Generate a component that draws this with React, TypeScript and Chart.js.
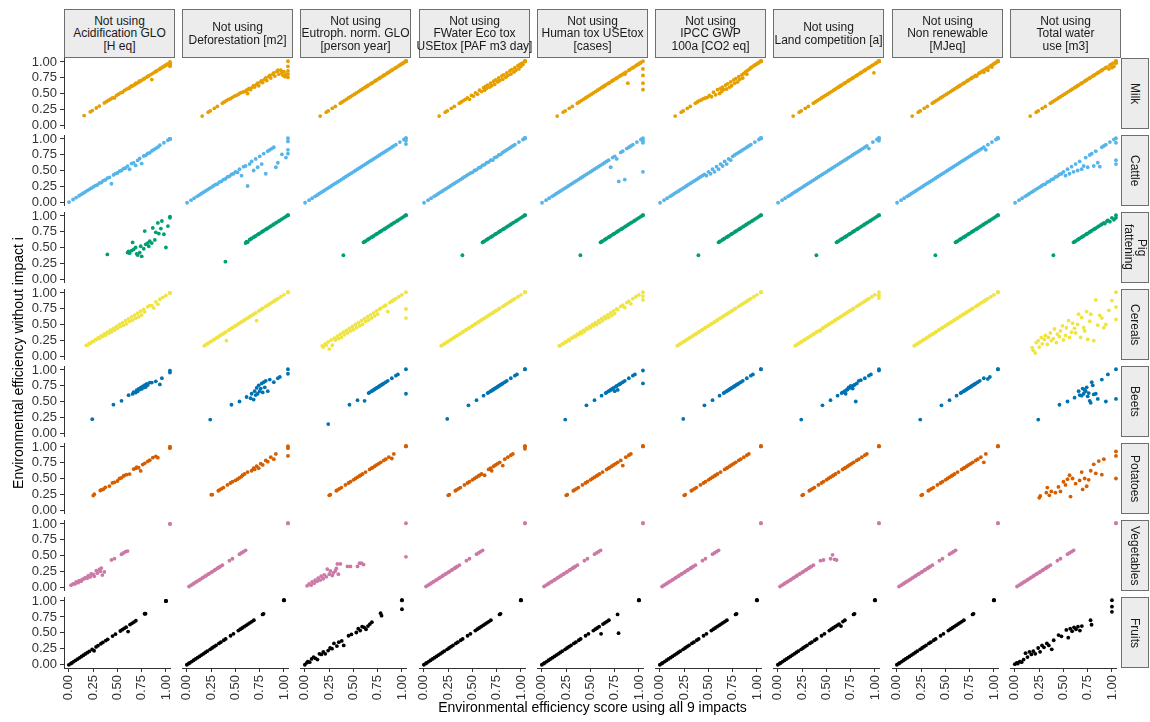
import { useEffect, useRef } from 'react';
import { Chart, registerables } from 'chart.js';
Chart.register(...registerables);

// ---------- labels ----------
const impactLabels = [
  'Not using\nAcidification GLO\n[H eq]',
  'Not using\nDeforestation [m2]',
  'Not using\nEutroph. norm. GLO\n[person year]',
  'Not using\nFWater Eco tox\nUSEtox [PAF m3 day]',
  'Not using\nHuman tox USEtox\n[cases]',
  'Not using\nIPCC GWP\n100a [CO2 eq]',
  'Not using\nLand competition [a]',
  'Not using\nNon renewable\n[MJeq]',
  'Not using\nTotal water\nuse [m3]',
];
const productLabels = ['Milk', 'Cattle', 'Pig\nfattening', 'Cereals', 'Beets', 'Potatoes', 'Vegetables', 'Fruits'];
const productColors = ['#E69F00', '#56B4E9', '#009E73', '#F0E442', '#0072B2', '#D55E00', '#CC79A7', '#000000'];
const tickValues = [0, 0.25, 0.5, 0.75, 1];
const tickLabels = ['0.00', '0.25', '0.50', '0.75', '1.00'];
const xTitle = 'Environmental efficiency score using all 9 impacts';
const yTitle = 'Environmental efficiency without impact i';

// ---------- Milk ----------
const milkX = [0.15,0.21,0.23,0.27,0.30,0.35,0.37,0.39,0.41,0.43, 0.45,0.47,0.49,0.51,0.53,0.55,0.57,0.59,0.60,0.61, 0.62,0.63,0.65,0.66,0.67,0.69,0.70,0.71,0.73,0.74, 0.75,0.77,0.78,0.79,0.81,0.82,0.83,0.85,0.86,0.87, 0.89,0.90,0.91,0.93,0.94,0.95,0.96,0.97,0.98,1.00, 1.00,1.00,1.00,1.00];
const milkAcid = [0.15,0.21,0.23,0.27,0.30,0.35,0.37,0.39,0.41,0.43, 0.43,0.47,0.49,0.51,0.52,0.55,0.57,0.58,0.59,0.61, 0.62,0.62,0.64,0.66,0.66,0.68,0.70,0.70,0.72,0.73, 0.74,0.76,0.77,0.78,0.80,0.72,0.82,0.84,0.85,0.86, 0.88,0.89,0.90,0.92,0.93,0.94,0.95,0.96,0.97,1.00, 0.98,0.96,0.95,0.93];
const milkDefor = [0.15,0.21,0.23,0.27,0.30,0.35,0.37,0.39,0.41,0.42, 0.44,0.46,0.47,0.49,0.51,0.52,0.53,0.55,0.50,0.57, 0.58,0.56,0.60,0.62,0.60,0.64,0.66,0.62,0.68,0.70, 0.67,0.72,0.74,0.70,0.76,0.78,0.74,0.80,0.82,0.77, 0.84,0.86,0.80,0.86,0.82,0.78,0.84,0.76,0.80,1.00, 0.92,0.85,0.80,0.75];
const milkEutro = [0.15,0.21,0.23,0.27,0.30,0.35,0.37,0.39,0.41,0.43, 0.45,0.47,0.49,0.51,0.53,0.55,0.57,0.59,0.60,0.61, 0.62,0.63,0.65,0.66,0.67,0.69,0.70,0.71,0.73,0.74, 0.75,0.77,0.78,0.79,0.81,0.82,0.83,0.85,0.86,0.87, 0.89,0.90,0.91,0.93,0.94,0.95,0.96,0.97,0.98,1.00, 1.00,1.00,1.00,1.00];
const milkFwater = [0.15,0.21,0.23,0.27,0.30,0.35,0.37,0.39,0.41,0.43, 0.41,0.47,0.46,0.51,0.49,0.55,0.53,0.59,0.55,0.61, 0.58,0.63,0.60,0.66,0.62,0.69,0.64,0.71,0.68,0.74, 0.70,0.77,0.72,0.79,0.75,0.82,0.78,0.85,0.80,0.87, 0.83,0.90,0.86,0.93,0.88,0.95,0.92,0.97,0.95,1.00, 1.00,1.00,1.00,1.00];
const milkHuman = [0.15,0.21,0.23,0.27,0.30,0.35,0.37,0.39,0.41,0.43, 0.45,0.47,0.49,0.51,0.53,0.55,0.57,0.59,0.60,0.61, 0.62,0.63,0.65,0.66,0.67,0.69,0.70,0.71,0.73,0.74, 0.75,0.77,0.78,0.79,0.81,0.80,0.83,0.66,0.86,0.87, 0.89,0.90,0.91,0.93,0.94,0.95,0.96,0.97,0.98,1.00, 0.88,0.78,0.66,0.56];
const milkIpcc = [0.15,0.21,0.23,0.27,0.30,0.35,0.37,0.39,0.40,0.42, 0.43,0.44,0.47,0.45,0.52,0.48,0.56,0.50,0.58,0.53, 0.60,0.56,0.63,0.57,0.65,0.60,0.68,0.62,0.71,0.66, 0.73,0.68,0.76,0.72,0.79,0.74,0.81,0.84,0.80,0.86, 0.88,0.90,0.91,0.93,0.94,0.95,0.96,0.97,0.98,1.00, 1.00,1.00,1.00,1.00];
const milkLand = [0.15,0.21,0.23,0.27,0.30,0.35,0.37,0.39,0.41,0.43, 0.45,0.47,0.49,0.51,0.53,0.55,0.57,0.59,0.60,0.61, 0.62,0.63,0.65,0.66,0.67,0.69,0.70,0.71,0.73,0.74, 0.75,0.77,0.78,0.79,0.81,0.82,0.83,0.85,0.86,0.87, 0.89,0.90,0.91,0.93,0.94,0.82,0.96,0.97,0.98,1.00, 1.00,1.00,1.00,1.00];
const milkNonren = [0.15,0.21,0.23,0.27,0.30,0.35,0.37,0.39,0.41,0.43, 0.45,0.47,0.49,0.51,0.53,0.55,0.57,0.59,0.60,0.61, 0.62,0.63,0.65,0.66,0.67,0.69,0.70,0.71,0.73,0.74, 0.75,0.77,0.78,0.77,0.81,0.82,0.83,0.85,0.83,0.87, 0.89,0.86,0.91,0.93,0.91,0.95,0.96,0.97,0.98,1.00, 1.00,1.00,1.00,1.00];
const milkWater = [0.15,0.21,0.23,0.27,0.30,0.35,0.37,0.39,0.41,0.43, 0.45,0.47,0.49,0.51,0.53,0.55,0.57,0.59,0.60,0.61, 0.62,0.63,0.65,0.66,0.67,0.69,0.70,0.71,0.73,0.74, 0.75,0.77,0.78,0.79,0.81,0.82,0.83,0.85,0.86,0.87, 0.89,0.90,0.91,0.88,0.94,0.95,0.90,0.97,0.92,1.00, 1.00,1.00,0.98,0.97];

// ---------- Cattle ----------
const cattleX = [0.00,0.04,0.07,0.10,0.12,0.14,0.16,0.18,0.20,0.22, 0.24,0.26,0.28,0.30,0.32,0.34,0.36,0.38,0.40,0.42, 0.44,0.46,0.48,0.50,0.52,0.54,0.56,0.58,0.60,0.62, 0.64,0.66,0.68,0.70,0.72,0.74,0.76,0.78,0.80,0.82, 0.84,0.86,0.88,0.90,0.94,0.98,1.00,1.00,1.00,1.00];
const cattleAcid = [0.00,0.04,0.07,0.10,0.12,0.14,0.16,0.18,0.20,0.22, 0.24,0.26,0.27,0.30,0.31,0.34,0.35,0.38,0.39,0.29, 0.43,0.45,0.46,0.49,0.50,0.53,0.54,0.57,0.52,0.61, 0.62,0.58,0.66,0.69,0.61,0.73,0.74,0.77,0.78,0.81, 0.83,0.85,0.87,0.90,0.94,0.98,1.00,1.00,1.00,1.00];
const cattleDefor = [0.00,0.04,0.07,0.10,0.12,0.14,0.16,0.18,0.20,0.22, 0.24,0.26,0.28,0.29,0.32,0.33,0.36,0.37,0.40,0.41, 0.44,0.45,0.48,0.47,0.52,0.42,0.56,0.57,0.26,0.60, 0.64,0.50,0.68,0.55,0.72,0.60,0.76,0.45,0.80,0.82, 0.84,0.86,0.55,0.62,0.75,0.70,1.00,0.95,0.82,0.76];
const cattleEutro = [0.00,0.04,0.07,0.10,0.12,0.14,0.16,0.18,0.20,0.22, 0.24,0.26,0.28,0.30,0.32,0.34,0.36,0.38,0.40,0.42, 0.44,0.46,0.48,0.50,0.52,0.54,0.56,0.58,0.60,0.62, 0.64,0.66,0.68,0.70,0.72,0.74,0.76,0.78,0.80,0.82, 0.84,0.86,0.88,0.90,0.94,0.98,1.00,0.96,0.91,1.00];
const cattleFwater = [0.00,0.04,0.07,0.10,0.12,0.14,0.16,0.18,0.20,0.22, 0.24,0.26,0.28,0.30,0.32,0.34,0.36,0.38,0.40,0.42, 0.44,0.46,0.47,0.50,0.51,0.54,0.55,0.58,0.59,0.62, 0.63,0.66,0.66,0.70,0.71,0.74,0.75,0.78,0.80,0.82, 0.84,0.86,0.88,0.90,0.94,0.98,1.00,1.00,1.00,1.00];
const cattleHuman = [0.00,0.04,0.07,0.10,0.12,0.14,0.16,0.18,0.20,0.22, 0.24,0.26,0.28,0.30,0.32,0.34,0.36,0.38,0.40,0.42, 0.44,0.46,0.48,0.50,0.52,0.54,0.56,0.58,0.60,0.62, 0.64,0.66,0.55,0.70,0.72,0.68,0.33,0.78,0.80,0.36, 0.84,0.86,0.88,0.90,0.94,0.98,1.00,0.96,0.93,0.48];
const cattleIpcc = [0.00,0.04,0.07,0.10,0.12,0.14,0.16,0.18,0.20,0.22, 0.24,0.26,0.28,0.30,0.32,0.34,0.36,0.38,0.40,0.42, 0.44,0.42,0.48,0.45,0.52,0.48,0.56,0.52,0.60,0.57, 0.64,0.60,0.68,0.66,0.72,0.74,0.76,0.78,0.80,0.82, 0.84,0.86,0.88,0.90,0.94,0.98,1.00,1.00,1.00,1.00];
const cattleLand = [0.00,0.04,0.07,0.10,0.12,0.14,0.16,0.18,0.20,0.22, 0.24,0.26,0.28,0.30,0.32,0.34,0.36,0.38,0.40,0.42, 0.44,0.46,0.48,0.50,0.52,0.54,0.56,0.58,0.60,0.62, 0.64,0.66,0.68,0.70,0.72,0.74,0.76,0.78,0.80,0.82, 0.84,0.86,0.88,0.84,0.94,0.98,1.00,0.96,1.00,1.00];
const cattleNonren = [0.00,0.04,0.07,0.10,0.12,0.14,0.16,0.18,0.20,0.22, 0.24,0.26,0.28,0.30,0.32,0.34,0.36,0.38,0.40,0.42, 0.44,0.46,0.48,0.50,0.52,0.54,0.56,0.58,0.60,0.62, 0.64,0.66,0.68,0.70,0.72,0.74,0.76,0.78,0.80,0.82, 0.84,0.86,0.82,0.90,0.94,0.98,1.00,1.00,1.00,1.00];
const cattleWater = [0.00,0.04,0.07,0.10,0.12,0.14,0.16,0.18,0.20,0.22, 0.24,0.26,0.28,0.29,0.32,0.33,0.36,0.37,0.40,0.41, 0.44,0.45,0.48,0.42,0.52,0.45,0.56,0.48,0.60,0.50, 0.64,0.52,0.57,0.70,0.55,0.74,0.76,0.57,0.80,0.62, 0.56,0.86,0.88,0.90,0.94,0.98,1.00,0.93,0.66,0.60];

// ---------- Pig fattening ----------
const pigX = [0.38,0.58,0.59,0.60,0.62,0.63,0.64,0.66,0.67,0.68, 0.70,0.71,0.72,0.74,0.75,0.76,0.78,0.79,0.80,0.82, 0.83,0.85,0.86,0.88,0.89,0.91,0.92,0.94,0.96,0.98, 1.00,1.00];
const pigAcid = [0.39,0.42,0.44,0.41,0.45,0.58,0.47,0.50,0.40,0.38, 0.42,0.52,0.36,0.48,0.76,0.55,0.57,0.52,0.60,0.57, 0.81,0.62,0.74,0.89,0.72,0.80,0.92,0.71,0.50,0.84, 0.99,0.97];
const pigDefor = [0.28,0.57,0.59,0.58,0.62,0.63,0.64,0.66,0.67,0.68, 0.70,0.71,0.72,0.74,0.75,0.76,0.78,0.79,0.80,0.82, 0.83,0.85,0.86,0.88,0.89,0.91,0.92,0.94,0.96,0.98, 1.00,1.00];
const pigSame = [0.38,0.58,0.59,0.60,0.62,0.63,0.64,0.66,0.67,0.68, 0.70,0.71,0.72,0.74,0.75,0.76,0.78,0.79,0.80,0.82, 0.83,0.85,0.86,0.88,0.89,0.91,0.92,0.94,0.96,0.98, 1.00,1.00];
const pigWater = [0.38,0.58,0.59,0.60,0.62,0.63,0.64,0.66,0.67,0.68, 0.70,0.71,0.72,0.74,0.75,0.76,0.78,0.79,0.80,0.82, 0.83,0.85,0.86,0.88,0.87,0.91,0.92,0.90,0.96,0.93, 1.00,0.96];

// ---------- Cereals ----------
const cerX = [0.17,0.18,0.20,0.21,0.23,0.24,0.26,0.27,0.29,0.30, 0.32,0.33,0.35,0.36,0.38,0.39,0.41,0.42,0.44,0.45, 0.47,0.48,0.50,0.51,0.53,0.54,0.56,0.57,0.59,0.60, 0.62,0.63,0.65,0.66,0.68,0.69,0.71,0.72,0.74,0.75, 0.78,0.80,0.82,0.84,0.86,0.88,0.90,0.93,0.96,1.00, 1.00,1.00];
const cerAcid = [0.17,0.17,0.20,0.20,0.23,0.23,0.26,0.26,0.29,0.28, 0.32,0.31,0.35,0.33,0.38,0.36,0.41,0.38,0.44,0.41, 0.47,0.44,0.50,0.47,0.53,0.49,0.56,0.51,0.59,0.55, 0.62,0.57,0.65,0.60,0.68,0.62,0.71,0.65,0.74,0.70, 0.78,0.80,0.80,0.76,0.86,0.82,0.90,0.93,0.96,1.00, 1.00,1.00];
const cerDefor = [0.17,0.18,0.20,0.21,0.23,0.24,0.26,0.27,0.29,0.30, 0.32,0.33,0.35,0.36,0.38,0.25,0.41,0.42,0.44,0.45, 0.47,0.48,0.50,0.51,0.53,0.54,0.56,0.57,0.59,0.60, 0.62,0.63,0.65,0.66,0.68,0.56,0.71,0.72,0.74,0.75, 0.78,0.80,0.82,0.84,0.86,0.88,0.90,0.93,0.96,1.00, 1.00,1.00];
const cerEutro = [0.17,0.15,0.20,0.18,0.23,0.12,0.26,0.18,0.29,0.26, 0.32,0.28,0.35,0.30,0.38,0.34,0.41,0.37,0.44,0.40, 0.47,0.42,0.50,0.45,0.53,0.48,0.56,0.50,0.59,0.55, 0.62,0.57,0.65,0.60,0.68,0.63,0.71,0.66,0.74,0.75, 0.78,0.80,0.70,0.84,0.86,0.88,0.90,0.93,0.96,1.00, 0.74,0.60];
const cerSame = [0.17,0.18,0.20,0.21,0.23,0.24,0.26,0.27,0.29,0.30, 0.32,0.33,0.35,0.36,0.38,0.39,0.41,0.42,0.44,0.45, 0.47,0.48,0.50,0.51,0.53,0.54,0.56,0.57,0.59,0.60, 0.62,0.63,0.65,0.66,0.68,0.69,0.71,0.72,0.74,0.75, 0.78,0.80,0.82,0.84,0.86,0.88,0.90,0.93,0.96,1.00, 1.00,1.00];
const cerHuman = [0.17,0.17,0.20,0.20,0.23,0.23,0.26,0.25,0.29,0.29, 0.32,0.31,0.35,0.34,0.38,0.36,0.41,0.39,0.44,0.43, 0.47,0.45,0.50,0.48,0.53,0.50,0.56,0.53,0.59,0.56, 0.62,0.59,0.65,0.61,0.68,0.64,0.71,0.67,0.74,0.73, 0.78,0.80,0.76,0.84,0.86,0.82,0.90,0.93,0.96,1.00, 0.94,0.88];
const cerLand = [0.17,0.18,0.20,0.21,0.23,0.24,0.26,0.27,0.29,0.30, 0.32,0.33,0.35,0.36,0.38,0.39,0.41,0.40,0.44,0.45, 0.47,0.48,0.50,0.51,0.53,0.54,0.56,0.57,0.59,0.60, 0.62,0.63,0.65,0.66,0.68,0.69,0.71,0.72,0.74,0.75, 0.78,0.80,0.82,0.84,0.86,0.88,0.90,0.93,0.96,1.00, 0.95,0.91];
const cerWater = [0.14,0.10,0.06,0.22,0.25,0.15,0.30,0.20,0.27,0.33, 0.19,0.30,0.37,0.25,0.28,0.43,0.22,0.35,0.31,0.40, 0.48,0.26,0.33,0.45,0.56,0.30,0.38,0.52,0.44,0.37, 0.50,0.66,0.30,0.61,0.45,0.40,0.70,0.27,0.55,0.66, 0.25,0.88,0.49,0.64,0.60,0.45,0.50,0.72,0.87,1.00, 0.77,0.58];

// ---------- Beets ----------
const beetX = [0.23,0.44,0.52,0.59,0.63,0.64,0.66,0.67,0.68,0.69, 0.70,0.71,0.72,0.73,0.74,0.75,0.76,0.77,0.78,0.80, 0.82,0.86,0.90,0.92,1.00,1.00];
const beetAcid = [0.22,0.45,0.51,0.60,0.62,0.65,0.64,0.68,0.66,0.70, 0.69,0.72,0.70,0.74,0.72,0.76,0.73,0.78,0.76,0.80, 0.80,0.82,0.77,0.87,0.99,0.96];
const beetDefor = [0.22,0.45,0.50,0.57,0.55,0.62,0.53,0.66,0.60,0.71, 0.62,0.75,0.66,0.70,0.78,0.64,0.80,0.72,0.82,0.66, 0.84,0.80,0.86,0.88,1.00,0.93];
const beetEutro = [0.15,0.45,0.52,0.51,0.63,0.64,0.66,0.67,0.68,0.69, 0.70,0.71,0.72,0.73,0.74,0.75,0.76,0.77,0.78,0.80, 0.82,0.86,0.90,0.92,1.00,0.62];
const beetSame = [0.23,0.44,0.52,0.59,0.63,0.64,0.66,0.67,0.68,0.69, 0.70,0.71,0.72,0.73,0.74,0.75,0.76,0.77,0.78,0.80, 0.82,0.86,0.90,0.92,1.00,1.00];
const beetHuman = [0.22,0.44,0.52,0.59,0.63,0.64,0.66,0.67,0.68,0.69, 0.70,0.71,0.66,0.73,0.74,0.68,0.76,0.77,0.78,0.80, 0.82,0.86,0.90,0.92,0.98,0.78];
const beetLand = [0.22,0.44,0.52,0.59,0.63,0.64,0.66,0.62,0.68,0.69, 0.72,0.71,0.74,0.73,0.70,0.75,0.76,0.50,0.78,0.82, 0.83,0.86,0.90,0.92,1.00,0.98];
const beetNonren = [0.22,0.44,0.52,0.59,0.63,0.64,0.66,0.67,0.68,0.69, 0.70,0.71,0.72,0.73,0.74,0.75,0.76,0.77,0.78,0.80, 0.82,0.86,0.85,0.88,1.00,1.00];
const beetWater = [0.22,0.45,0.50,0.56,0.66,0.60,0.59,0.70,0.62,0.68, 0.66,0.72,0.58,0.63,0.51,0.48,0.80,0.75,0.61,0.62, 0.54,0.84,0.50,0.92,1.00,0.54];

// ---------- Potatoes ----------
const potX = [0.24,0.25,0.31,0.32,0.34,0.36,0.40,0.43,0.45,0.48, 0.50,0.52,0.54,0.55,0.57,0.60,0.64,0.66,0.67,0.69, 0.71,0.73,0.75,0.78,0.80,0.83,0.86,0.88,1.00,1.00, 1.00];
const potAcid = [0.23,0.25,0.31,0.32,0.33,0.36,0.38,0.43,0.44,0.46, 0.50,0.51,0.54,0.55,0.56,0.57,0.65,0.66,0.68,0.67, 0.62,0.72,0.74,0.77,0.79,0.83,0.85,0.83,1.00,0.98, 1.00];
const potDefor = [0.25,0.25,0.31,0.32,0.34,0.36,0.40,0.43,0.45,0.47, 0.49,0.51,0.53,0.55,0.57,0.60,0.62,0.66,0.64,0.69, 0.66,0.73,0.71,0.78,0.76,0.83,0.80,0.88,1.00,0.97, 0.85];
const potEutro = [0.24,0.25,0.31,0.32,0.34,0.36,0.40,0.43,0.45,0.48, 0.50,0.52,0.54,0.55,0.57,0.60,0.64,0.66,0.67,0.69, 0.71,0.73,0.75,0.78,0.80,0.83,0.81,0.88,1.00,1.00, 1.00];
const potFwater = [0.24,0.25,0.31,0.32,0.34,0.36,0.40,0.43,0.45,0.48, 0.50,0.52,0.54,0.55,0.57,0.55,0.64,0.66,0.62,0.69, 0.71,0.73,0.75,0.70,0.80,0.83,0.86,0.88,1.00,0.96, 1.00];
const potHuman = [0.24,0.25,0.31,0.32,0.34,0.36,0.40,0.43,0.45,0.48, 0.50,0.52,0.54,0.55,0.57,0.60,0.64,0.66,0.67,0.69, 0.71,0.73,0.75,0.78,0.70,0.83,0.86,0.88,1.00,1.00, 1.00];
const potSame = [0.24,0.25,0.31,0.32,0.34,0.36,0.40,0.43,0.45,0.48, 0.50,0.52,0.54,0.55,0.57,0.60,0.64,0.66,0.67,0.69, 0.71,0.73,0.75,0.78,0.80,0.83,0.86,0.88,1.00,1.00, 1.00];
const potNonren = [0.24,0.25,0.31,0.32,0.34,0.36,0.40,0.43,0.45,0.48, 0.50,0.52,0.54,0.55,0.57,0.60,0.64,0.66,0.67,0.69, 0.71,0.73,0.75,0.78,0.80,0.83,0.75,0.88,1.00,1.00, 1.00];
const potWater = [0.20,0.23,0.28,0.36,0.24,0.30,0.28,0.37,0.30,0.45, 0.40,0.49,0.55,0.22,0.50,0.42,0.47,0.60,0.33,0.50, 0.38,0.48,0.62,0.72,0.58,0.77,0.56,0.80,0.92,0.50, 0.85];

// ---------- Vegetables ----------
const vegX = [0.02,0.04,0.06,0.07,0.09,0.10,0.12,0.13,0.15,0.16, 0.18,0.19,0.21,0.22,0.24,0.25,0.27,0.28,0.30,0.31, 0.32,0.33,0.35,0.42,0.45,0.52,0.54,0.56,0.58,1.00, 1.00];
const vegAcid = [0.03,0.05,0.05,0.08,0.07,0.10,0.09,0.12,0.13,0.15, 0.14,0.18,0.16,0.21,0.20,0.17,0.26,0.22,0.28,0.25, 0.30,0.19,0.24,0.43,0.45,0.52,0.54,0.56,0.57,1.00, 1.00];
const vegEutro = [0.03,0.06,0.04,0.09,0.07,0.12,0.10,0.15,0.12,0.18, 0.14,0.20,0.17,0.29,0.21,0.26,0.19,0.23,0.26,0.30, 0.37,0.21,0.37,0.33,0.33,0.33,0.38,0.38,0.36,1.00, 0.48];
const vegSame = [0.02,0.04,0.06,0.07,0.09,0.10,0.12,0.13,0.15,0.16, 0.18,0.19,0.21,0.22,0.24,0.25,0.27,0.28,0.30,0.31, 0.32,0.33,0.35,0.42,0.45,0.52,0.54,0.56,0.58,1.00, 1.00];
const vegLand = [0.02,0.04,0.06,0.07,0.09,0.10,0.12,0.13,0.15,0.16, 0.18,0.19,0.21,0.22,0.24,0.25,0.27,0.28,0.30,0.31, 0.32,0.33,0.35,0.42,0.43,0.45,0.51,0.44,0.43,1.00, 1.00];

// ---------- Fruits ----------
const fruitX = [0.00,0.02,0.03,0.05,0.07,0.09,0.11,0.13,0.15,0.17, 0.19,0.21,0.24,0.26,0.28,0.30,0.33,0.35,0.38,0.40, 0.45,0.48,0.53,0.55,0.57,0.59,0.61,0.63,0.65,0.67, 0.69,0.78,0.79,1.00,1.00,1.00];
const fruitAcid = [0.00,0.02,0.03,0.05,0.07,0.09,0.11,0.13,0.15,0.17, 0.19,0.21,0.24,0.22,0.28,0.30,0.33,0.35,0.38,0.40, 0.45,0.48,0.53,0.55,0.57,0.59,0.52,0.63,0.65,0.67, 0.69,0.80,0.80,1.00,1.00,1.00];
const fruitEutro = [0.00,0.03,0.05,0.04,0.09,0.12,0.10,0.08,0.17,0.16, 0.20,0.17,0.22,0.26,0.25,0.33,0.29,0.35,0.37,0.30, 0.45,0.47,0.50,0.56,0.53,0.59,0.58,0.55,0.60,0.63, 0.66,0.80,0.76,1.00,0.86,1.00];
const fruitSame = [0.00,0.02,0.03,0.05,0.07,0.09,0.11,0.13,0.15,0.17, 0.19,0.21,0.24,0.26,0.28,0.30,0.33,0.35,0.38,0.40, 0.45,0.48,0.53,0.55,0.57,0.59,0.61,0.63,0.65,0.67, 0.69,0.78,0.79,1.00,1.00,1.00];
const fruitHuman = [0.00,0.02,0.03,0.05,0.07,0.09,0.11,0.13,0.15,0.17, 0.19,0.21,0.24,0.26,0.28,0.30,0.33,0.35,0.38,0.40, 0.45,0.48,0.53,0.55,0.57,0.59,0.48,0.63,0.65,0.67, 0.69,0.78,0.49,1.00,1.00,1.00];
const fruitLand = [0.00,0.02,0.03,0.05,0.07,0.09,0.11,0.13,0.15,0.17, 0.19,0.21,0.24,0.26,0.28,0.30,0.33,0.35,0.38,0.40, 0.45,0.48,0.53,0.55,0.57,0.59,0.61,0.63,0.60,0.67, 0.69,0.78,0.79,1.00,1.00,1.00];
const fruitWater = [0.01,0.03,0.02,0.05,0.04,0.08,0.18,0.12,0.20,0.16, 0.21,0.17,0.26,0.20,0.30,0.27,0.33,0.30,0.24,0.38, 0.46,0.44,0.54,0.42,0.56,0.52,0.58,0.55,0.59,0.53, 0.60,0.69,0.62,1.00,0.90,0.82];

// rows: x scores and the y series for the 9 impact columns
const rowX = [milkX, cattleX, pigX, cerX, beetX, potX, vegX, fruitX];
const rowY = [
  [milkAcid, milkDefor, milkEutro, milkFwater, milkHuman, milkIpcc, milkLand, milkNonren, milkWater],
  [cattleAcid, cattleDefor, cattleEutro, cattleFwater, cattleHuman, cattleIpcc, cattleLand, cattleNonren, cattleWater],
  [pigAcid, pigDefor, pigSame, pigSame, pigSame, pigSame, pigSame, pigSame, pigWater],
  [cerAcid, cerDefor, cerEutro, cerSame, cerHuman, cerSame, cerLand, cerSame, cerWater],
  [beetAcid, beetDefor, beetEutro, beetSame, beetHuman, beetSame, beetLand, beetNonren, beetWater],
  [potAcid, potDefor, potEutro, potFwater, potHuman, potSame, potSame, potNonren, potWater],
  [vegAcid, vegSame, vegEutro, vegSame, vegSame, vegSame, vegLand, vegSame, vegSame],
  [fruitAcid, fruitSame, fruitEutro, fruitSame, fruitHuman, fruitSame, fruitLand, fruitSame, fruitWater],
];

// ---------- layout ----------
const FONT = '"Liberation Sans", Arial, Helvetica, sans-serif';
const NC = 9, NR = 8;
const PANEL_W = 111, PANEL_H = 71;
const panelLeft = (c: number) => Math.round(63.94 + 118.25 * c);
const panelTop = (r: number) => Math.round(57.8 + 77 * r);
const PAD = 10, AXW = 52, AXH = 48;
const AXIS_COLOR = '#333333';

type PanelDef = { r: number; c: number; left: number; top: number; w: number; h: number; lx: number; bx: number };
const panels: PanelDef[] = [];
for (let r = 0; r < NR; r++) {
  for (let c = 0; c < NC; c++) {
    const lx = c === 0 ? AXW : 0;
    const bx = r === NR - 1 ? AXH : 0;
    panels.push({
      r, c, lx, bx,
      left: panelLeft(c) - PAD - lx,
      top: panelTop(r) - PAD,
      w: PANEL_W + 2 * PAD + lx,
      h: PANEL_H + 2 * PAD + bx,
    });
  }
}

function axisCommon(show: boolean) {
  return {
    type: 'linear' as const,
    min: -0.05,
    max: 1.05,
    display: show,
    afterBuildTicks: (s: any) => { s.ticks = tickValues.map((value) => ({ value })); },
    grid: { display: true, drawOnChartArea: false, drawTicks: true, tickLength: 4, color: AXIS_COLOR, lineWidth: 1 },
    border: { display: true, color: AXIS_COLOR, width: 1 },
  };
}

export default function App() {
  const refs = useRef<(HTMLCanvasElement | null)[]>([]);

  useEffect(() => {
    Chart.defaults.font.family = FONT;
    const charts: Chart[] = [];
    panels.forEach((p, i) => {
      const cv = refs.current[i];
      if (!cv) return;
      const xs = rowX[p.r];
      const ys = rowY[p.r][p.c];
      const n = Math.min(xs.length, ys.length);
      const pts: { x: number; y: number }[] = [];
      for (let k = 0; k < n; k++) pts.push({ x: xs[k], y: ys[k] });
      const ch = new Chart(cv, {
        type: 'scatter',
        data: {
          datasets: [{
            data: pts,
            pointRadius: 1.9,
            pointHoverRadius: 1.9,
            backgroundColor: productColors[p.r],
            borderWidth: 0,
          }],
        },
        options: {
          animation: false,
          responsive: false,
          devicePixelRatio: 1,
          events: [],
          layout: { padding: PAD },
          plugins: { legend: { display: false }, tooltip: { enabled: false }, title: { display: false } },
          scales: {
            x: {
              ...axisCommon(p.bx > 0),
              afterFit: (s: any) => { s.height = p.bx; },
              ticks: {
                autoSkip: false, maxRotation: 90, minRotation: 90, padding: 3,
                color: AXIS_COLOR, font: { size: 13, family: FONT },
                callback: (_v: any, idx: number) => tickLabels[idx],
              },
            },
            y: {
              ...axisCommon(p.lx > 0),
              afterFit: (s: any) => { s.width = p.lx; },
              ticks: {
                autoSkip: false, padding: 3,
                color: AXIS_COLOR, font: { size: 13, family: FONT },
                callback: (_v: any, idx: number) => tickLabels[idx],
              },
            },
          },
        } as any,
      });
      charts.push(ch);
    });
    return () => charts.forEach((ch) => ch.destroy());
  }, []);

  const stripBase: React.CSSProperties = {
    position: 'absolute', boxSizing: 'border-box', background: '#ececec', border: '1px solid #6e6e6e',
    display: 'flex', alignItems: 'center', justifyContent: 'center', textAlign: 'center',
    fontSize: 12, lineHeight: '12.5px', color: '#1a1a1a', whiteSpace: 'pre', fontFamily: FONT,
  };

  const gridLeft = panelLeft(0);
  const gridRight = panelLeft(NC - 1) + PANEL_W;
  const gridTop = panelTop(0);
  const gridBottom = panelTop(NR - 1) + PANEL_H;

  return (
    <div style={{ position: 'absolute', left: 0, top: 0, width: 1150, height: 722, background: '#ffffff', overflow: 'hidden', fontFamily: FONT }}>
      {panels.map((p, i) => (
        <canvas
          key={i}
          ref={(el) => { refs.current[i] = el; }}
          width={p.w}
          height={p.h}
          style={{ position: 'absolute', left: p.left, top: p.top, width: p.w, height: p.h }}
        />
      ))}
      {impactLabels.map((lab, c) => (
        <div key={'t' + c} style={{ ...stripBase, left: panelLeft(c), top: 9, width: PANEL_W, height: gridTop - 9 }}>
          {lab}
        </div>
      ))}
      {productLabels.map((lab, r) => (
        <div key={'s' + r} style={{ ...stripBase, left: gridRight, top: panelTop(r), width: 28, height: PANEL_H, writingMode: 'vertical-rl' }}>
          {lab}
        </div>
      ))}
      <div style={{ position: 'absolute', left: gridLeft, width: gridRight - gridLeft, top: 699, textAlign: 'center', fontSize: 14, color: '#000' }}>
        {xTitle}
      </div>
      <div style={{
        position: 'absolute', left: 18 - 200, top: (gridTop + gridBottom) / 2 - 9, width: 400, height: 18,
        textAlign: 'center', fontSize: 14, lineHeight: '18px', color: '#000', transform: 'rotate(-90deg)',
      }}>
        {yTitle}
      </div>
    </div>
  );
}
